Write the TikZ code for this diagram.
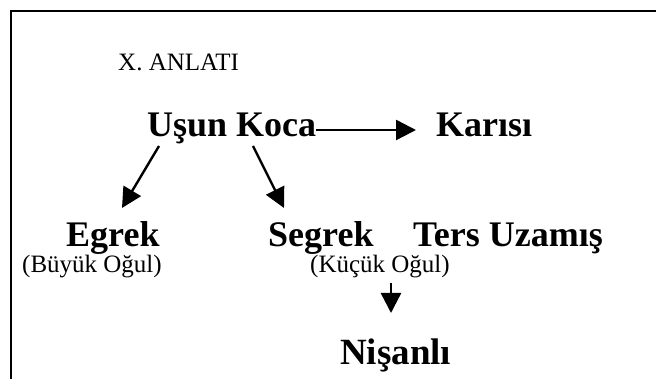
\documentclass[tikz,border=0pt]{standalone}
\usepackage{fontspec}
\setmainfont{Liberation Serif}
\usepackage{tikz}
\usetikzlibrary{arrows.meta, positioning}

\tikzset{
  namelbl/.style={anchor=base west, inner sep=0pt, font=\fontsize{36}{40}\selectfont\bfseries},
  notelbl/.style={anchor=base west, inner sep=0pt, font=\fontsize{25}{28}\selectfont},
  link/.style={line width=2.4pt, -{Triangle[length=20pt, width=20pt]}},
}

\begin{document}
\begin{tikzpicture}[x=1pt, y=-1pt]
  \useasboundingbox (0,0) rectangle (656,379);

  % Frame (open on the right and at the bottom)
  \draw[line width=2.6pt] (656,11) -- (11,11) -- (11,379);

  % Title
  \node[notelbl] (title) at (118,71) {X. ANLATI};

  % Father and wife
  \node[namelbl] (usun) at (147,137) {Uşun Koca};
  \node[namelbl] (karisi) at (436,137) {Karısı};

  % Sons
  \node[namelbl] (egrek) at (66,247) {Egrek};
  \node[namelbl] (segrek) at (268,247) {Segrek};
  \node[namelbl] (ters) at (413,247) {Ters Uzamış};
  \node[notelbl] (buyuk) at (22,273) {(Büyük Oğul)};
  \node[notelbl] (kucuk) at (310,273) {(Küçük Oğul)};

  % Fiancee
  \node[namelbl, font=\fontsize{37}{40}\selectfont\bfseries] (nisanli) at (340,364) {Nişanlı};

  % Links
  \draw[link] ([yshift=7pt]usun.base east) -- ([xshift=-20pt, yshift=7pt]karisi.base west);
  \draw[link] ([xshift=12pt, yshift=-9pt]usun.base west) -- ([xshift=56pt, yshift=39pt]egrek.base west);
  \draw[link] ([xshift=106pt, yshift=-9pt]usun.base west) -- ([xshift=16pt, yshift=39pt]segrek.base west);
  \draw[link] ([xshift=81pt, yshift=-10pt]kucuk.base west) -- ([xshift=51pt, yshift=51pt]nisanli.base west);
\end{tikzpicture}
\end{document}
